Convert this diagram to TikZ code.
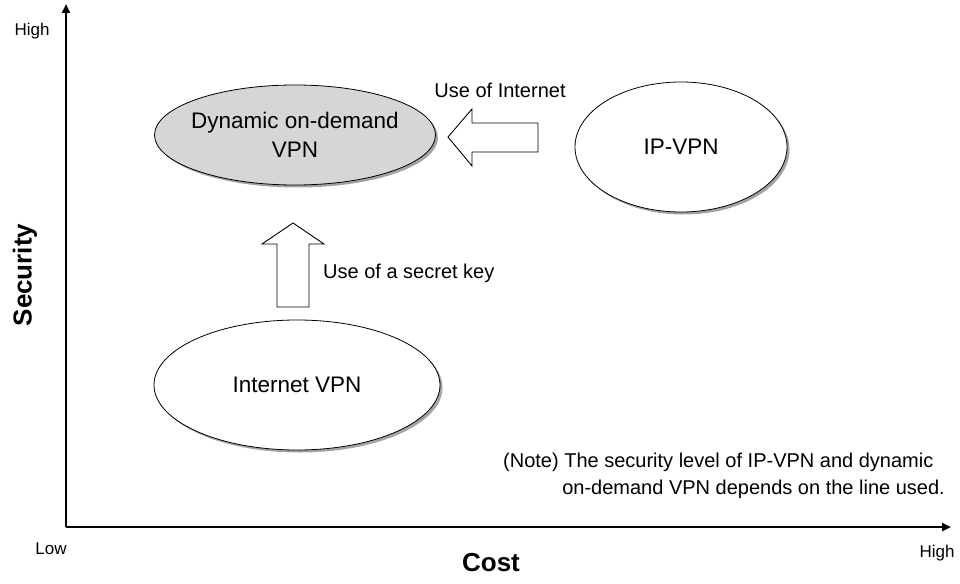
\documentclass[tikz,border=0pt]{standalone}
\usepackage{fontspec}
\setmainfont{Liberation Sans}
\usetikzlibrary{arrows.meta,shapes.geometric,shadows}

\tikzset{
  axis/.style={line width=2.3pt,-{Triangle[length=9pt,width=8pt]}},
  oval/.style={ellipse,draw=black,line width=0.8pt,fill=white,
    drop shadow={shadow xshift=2.5pt,shadow yshift=-2.5pt,fill=black!45,opacity=0.8},
    inner sep=-12pt,align=center,font=\fontsize{22.5}{29}\selectfont},
  blockarrow/.style={draw=black,line width=0.9pt,fill=white,line join=miter},
  lbl/.style={font=\fontsize{20}{24}\selectfont,inner sep=0pt},
  axlbl/.style={font=\fontsize{17}{20}\selectfont,inner sep=0pt},
  axtitle/.style={font=\bfseries\fontsize{26}{30}\selectfont,inner sep=0pt},
}

\begin{document}
\begin{tikzpicture}[x=1pt,y=-1pt]
  \useasboundingbox (0,0) rectangle (960,583);

  % axes
  \coordinate (origin) at (66,527);
  \coordinate (ytop) at (66,4);
  \coordinate (xend) at (951,527);
  \draw[axis] (origin) -- (ytop);
  \draw[axis] (origin) -- (xend);

  \node[axlbl] (yhigh) at (32,31) {High};
  \node[axlbl] (xlow) at (51,549) {Low};
  \node[axlbl] (xhigh) at (937,553) {High};
  \node[axtitle] (cost) at (491,563) {Cost};
  \node[axtitle,rotate=90] (security) at (25,275) {Security};

  % the three VPN kinds
  \node[oval,fill=black!16,minimum width=281,minimum height=100] (dyn) at (295,135)
    {Dynamic on-demand\\VPN};
  \node[oval,minimum width=212,minimum height=130] (ipvpn) at (681,147) {IP-VPN};
  \node[oval,minimum width=286,minimum height=130] (inet) at (297,385) {Internet VPN};

  % block arrows
  \draw[blockarrow] (277,307) -- (277,244) -- (262,244) -- (293,223) -- (324,244)
    -- (309,244) -- (309,307) -- cycle;
  \draw[blockarrow] (538,123) -- (472,123) -- (472,109) -- (448,137) -- (472,166)
    -- (472,152) -- (538,152) -- cycle;

  \node[lbl,anchor=west] (keylbl) at (323,273) {Use of a secret key};
  \node[lbl] (netlbl) at (500,90) {Use of Internet};

  % note
  \node[lbl,anchor=west] (note1) at (503,462) {(Note) The security level of IP-VPN and dynamic};
  \node[lbl,anchor=east] (note2) at (945,489) {on-demand VPN depends on the line used.};
\end{tikzpicture}
\end{document}
